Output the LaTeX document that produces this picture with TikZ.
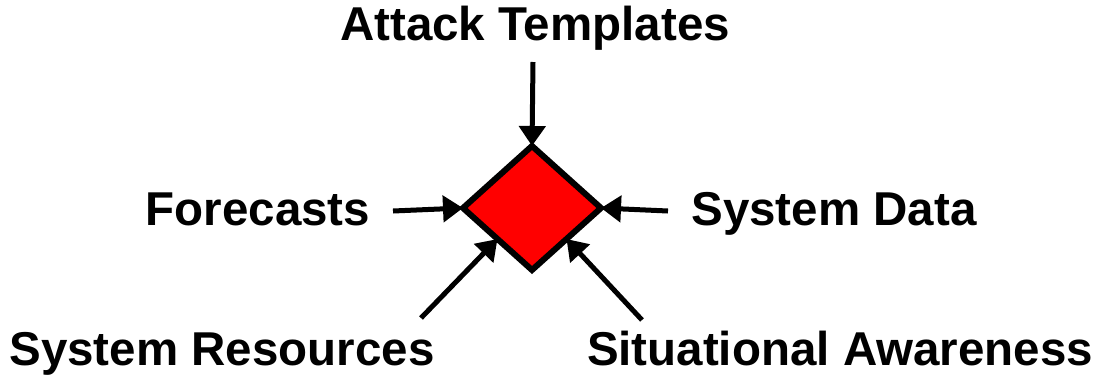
\documentclass[tikz,border=0pt]{standalone}
\usepackage{fontspec}
\setmainfont{Liberation Sans}
\usetikzlibrary{arrows.meta,shapes.geometric,shadows}

\begin{document}
\begin{tikzpicture}[x=1pt,y=-1pt,>={Triangle[length=20pt,width=26pt]},
  label/.style={anchor=base,font=\fontsize{47.5}{56}\selectfont\bfseries},
  feed/.style={->,line width=5pt}]
\useasboundingbox (0,0) rectangle (1101,376);
\node (core) at (532,208) [shape=diamond,draw,line width=6pt,fill=red,
  minimum width=138pt,minimum height=124pt,inner sep=0pt,outer sep=0pt,
  drop shadow={opacity=0.25,shadow xshift=2pt,shadow yshift=-2pt}] {};
\node (attack) at (535,40) [label] {Attack Templates};
\node (fore)   at (258,225) [label] {Forecasts};
\node (sysdat) at (834,225) [label] {System Data};
\node (sysres) at (222,365) [label] {System Resources};
\node (situ)   at (840,365) [label] {Situational Awareness};
\coordinate (attackend) at (533,62);
\coordinate (foreend)   at (393,211);
\coordinate (sysdatend) at (668,211);
\coordinate (sysresend) at (421,318);
\coordinate (situend)   at (642,320);
\draw [feed] (attackend) -- (core.north);
\draw [feed] (foreend) -- (core.west);
\draw [feed] (sysdatend) -- (core.east);
\draw [feed] (sysresend) -- (core.south west);
\draw [feed] (situend) -- (core.south east);
\end{tikzpicture}
\end{document}
